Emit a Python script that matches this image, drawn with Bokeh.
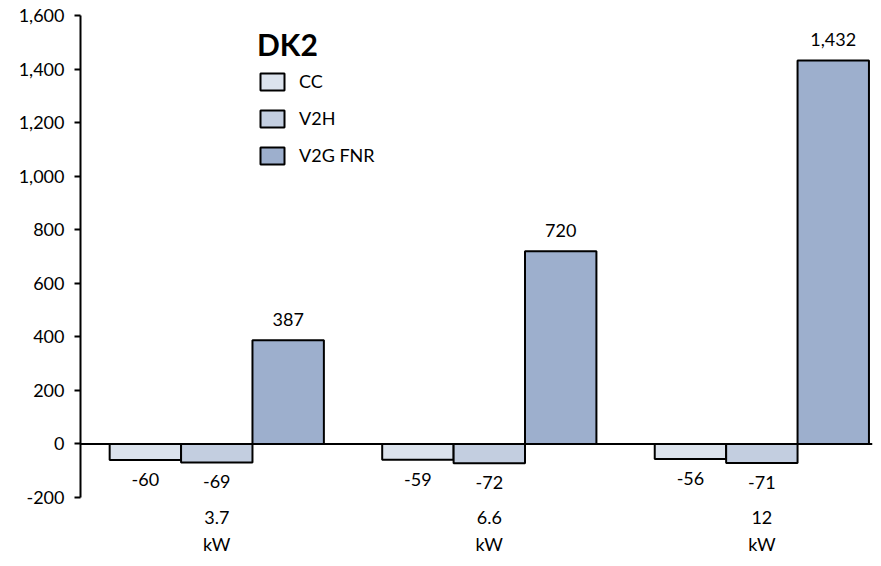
from bokeh.plotting import figure
from bokeh.models import (Range1d, FixedTicker, NumeralTickFormatter, Span, Legend,
                          LegendItem, ColumnDataSource, LabelSet)
from bokeh.core.properties import value
from bokeh.transform import dodge
from bokeh.embed import file_html
from bokeh.resources import INLINE

groups = ["3.7\nkW", "6.6\nkW", "12\nkW"]
series = ["CC", "V2H", "V2G FNR"]
cc = [-60, -59, -56]
v2h = [-69, -72, -71]
v2g = [387, 720, 1432]
colors = ["#DCE3ED", "#C3CEE0", "#9DAFCD"]
y_ticks = [-200, 0, 200, 400, 600, 800, 1000, 1200, 1400, 1600]

FONT = "Lato"
BW = 0.262
offsets = [-BW, 0.0, BW]
Y_MIN, Y_MAX = -200, 1600

p = figure(width=873, height=558, output_backend="svg", toolbar_location=None,
           x_range=Range1d(-0.5, 2.406), y_range=Range1d(Y_MIN, Y_MAX),
           min_border_left=80, min_border_right=1, min_border_top=15, min_border_bottom=61)
p.outline_line_color = None
p.xgrid.visible = False
p.ygrid.visible = False
p.background_fill_color = "white"
p.border_fill_color = "white"

idx = list(range(len(groups)))
items = []
for name, vals, col, off in zip(series, [cc, v2h, v2g], colors, offsets):
    src = ColumnDataSource(dict(
        x=idx, top=vals,
        label=[f"{v:,}" for v in vals],
        yoff=[14 if v >= 0 else -13 for v in vals],
        base=["bottom" if v >= 0 else "top" for v in vals],
    ))
    r = p.vbar(x=dodge("x", off, range=p.x_range), top="top", bottom=0, width=BW,
               source=src, fill_color=col, line_color="black", line_width=2)
    items.append(LegendItem(label=name, renderers=[r]))
    ls = LabelSet(x=dodge("x", off, range=p.x_range), y="top", text="label",
                  y_offset="yoff", text_align="center", text_baseline="base",
                  text_font=value(FONT), text_font_size="18px", text_color="black",
                  source=src)
    p.add_layout(ls)

p.add_layout(Span(location=0, dimension="width", line_color="black", line_width=2))

# y axis
ya = p.yaxis[0]
ya.ticker = FixedTicker(ticks=y_ticks)
ya.formatter = NumeralTickFormatter(format="0,0")
ya.axis_line_color = "black"
ya.axis_line_width = 2
ya.major_tick_line_color = "black"
ya.major_tick_line_width = 2
ya.major_tick_out = 6
ya.major_tick_in = 0
ya.minor_tick_line_color = None
ya.major_label_standoff = 10
ya.major_label_text_font = FONT
ya.major_label_text_font_size = "18px"
ya.major_label_text_color = "black"

# x axis (category labels only)
xa = p.xaxis[0]
xa.ticker = FixedTicker(ticks=idx)
xa.major_label_overrides = {i: g for i, g in zip(idx, groups)}
xa.axis_line_color = None
xa.major_tick_line_color = None
xa.major_tick_out = 0
xa.major_tick_in = 0
xa.minor_tick_line_color = None
xa.minor_tick_out = 0
xa.major_label_standoff = 8
xa.major_label_text_line_height = 1.25
xa.major_label_text_font = FONT
xa.major_label_text_font_size = "18px"
xa.major_label_text_color = "black"

legend = Legend(items=items, location=(177, 331), title="DK2",
                title_text_font=FONT, title_text_font_style="bold",
                title_text_font_size="30px", title_text_color="black", title_standoff=8,
                label_text_font=FONT, label_text_font_size="18px", label_text_color="black",
                glyph_width=30, glyph_height=21, spacing=15, label_standoff=12,
                padding=0, margin=0, border_line_color=None,
                background_fill_alpha=0)
p.add_layout(legend)

open("out.html", "w").write(file_html(p, INLINE))
